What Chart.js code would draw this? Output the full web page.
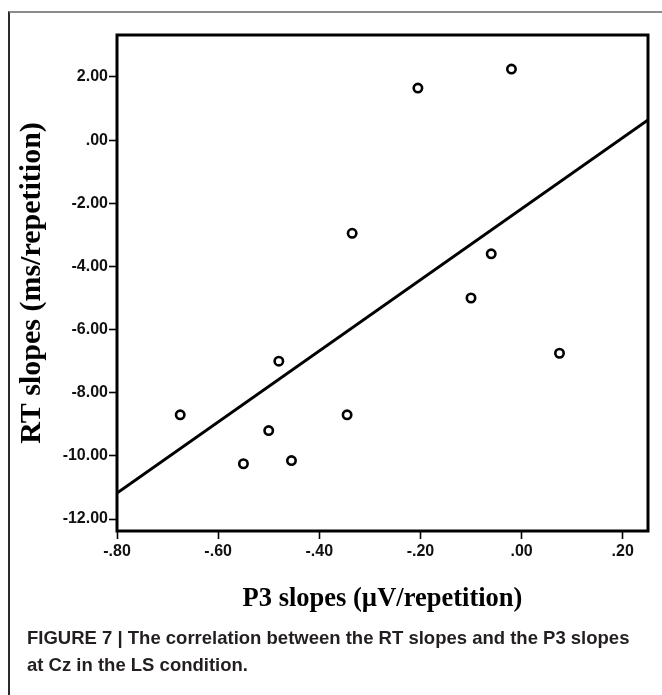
<!DOCTYPE html>
<html>
<head>
<meta charset="utf-8">
<title>RT slopes vs P3 slopes</title>
<script src="https://cdn.jsdelivr.net/npm/chart.js@4.4.1/dist/chart.umd.min.js"></script>
<style>
    html, body { margin: 0; padding: 0; background: #fff; }
    body { width: 662px; height: 695px; position: relative; overflow: hidden; }
    #frame {
        position: absolute; left: 8px; top: 11px; right: -4px; bottom: -4px;
        border-top: 2px solid #8c8c8c; border-left: 2px solid #2b2b2b;
    }
    #plot { position: absolute; left: 0; top: 0; }
    #caption {
        position: absolute; left: 27px; top: 624px;
        font-family: 'Liberation Sans', Arial, sans-serif; font-weight: bold;
        font-size: 18.5px; line-height: 27px; color: #231f20;
    }
</style>
</head>
<body>
<div id="frame"></div>
<canvas id="plot" width="662" height="695"></canvas>
<div id="caption">FIGURE 7 | The correlation between the RT slopes and the P3 slopes<br>at Cz in the LS condition.</div>

<script>
// Data
const p3Slopes = [-0.675, -0.55, -0.50, -0.48, -0.455, -0.345, -0.335, -0.205, -0.10, -0.06, -0.02, 0.075];
const rtSlopes = [-8.70, -10.25, -9.20, -7.00, -10.15, -8.70, -2.95, 1.65, -5.00, -3.60, 2.25, -6.75];

// Regression line end points (at the plot edges)
const fitX = [-0.80, 0.25];
const fitY = [-11.18, 0.64];

// Axis ticks
const xTicks = [-0.8, -0.6, -0.4, -0.2, 0, 0.2];
const xTickLabels = ['-.80', '-.60', '-.40', '-.20', '.00', '.20'];
const yTicks = [-12, -10, -8, -6, -4, -2, 0, 2];
const yTickLabels = ['-12.00', '-10.00', '-8.00', '-6.00', '-4.00', '-2.00', '.00', '2.00'];

const tickFont = { family: "'Liberation Sans', Arial, sans-serif", size: 16, weight: 'bold' };
const xTitleFont = { family: "'Liberation Serif', 'Times New Roman', serif", size: 26.5, weight: 'bold', lineHeight: 1 };
const yTitleFont = { family: "'Liberation Serif', 'Times New Roman', serif", size: 30, weight: 'bold', lineHeight: 1 };

// draws the full box around the plot area
const boxPlugin = {
    id: 'box',
    afterDraw(chart) {
        const { ctx, chartArea: a } = chart;
        ctx.save();
        ctx.strokeStyle = '#000';
        ctx.lineWidth = 3;
        ctx.strokeRect(a.left, a.top, a.right - a.left, a.bottom - a.top);
        ctx.restore();
    }
};

new Chart(document.getElementById('plot'), {
    type: 'scatter',
    data: {
        datasets: [
            {
                label: 'Subjects',
                data: p3Slopes.map((x, i) => ({ x: x, y: rtSlopes[i] })),
                pointStyle: 'circle',
                pointRadius: 4.2,
                pointBorderWidth: 2.6,
                pointBorderColor: '#000',
                pointBackgroundColor: '#fff',
                showLine: false,
                order: 1
            },
            {
                label: 'Fit',
                data: fitX.map((x, i) => ({ x: x, y: fitY[i] })),
                showLine: true,
                borderColor: '#000',
                borderWidth: 3,
                pointRadius: 0,
                order: 2
            }
        ]
    },
    options: {
        responsive: false,
        animation: false,
        devicePixelRatio: 1,
        layout: { padding: { left: 10, top: 35, right: 14, bottom: 83 } },
        plugins: { legend: { display: false }, tooltip: { enabled: false } },
        scales: {
            x: {
                type: 'linear',
                min: -0.8,
                max: 0.25,
                afterFit: s => { s.height = 81; },
                afterBuildTicks: s => { s.ticks = xTicks.map(v => ({ value: v })); },
                border: { display: false },
                grid: { drawOnChartArea: false, drawTicks: true, tickLength: 8, tickWidth: 1.6, tickColor: '#000' },
                ticks: {
                    color: '#111', font: tickFont, padding: 3, maxRotation: 0,
                    callback: v => xTickLabels[xTicks.indexOf(Math.round(v * 100) / 100)]
                },
                title: { display: true, text: 'P3 slopes (\u00b5V/repetition)', color: '#000', font: xTitleFont, padding: { top: 0, bottom: 0 } }
            },
            y: {
                type: 'linear',
                min: -12.38,
                max: 3.33,
                afterFit: s => { s.width = 107; },
                afterBuildTicks: s => { s.ticks = yTicks.map(v => ({ value: v })); },
                border: { display: false },
                grid: { drawOnChartArea: false, drawTicks: true, tickLength: 8, tickWidth: 1.6, tickColor: '#000' },
                ticks: {
                    color: '#111', font: tickFont, padding: 1,
                    callback: v => yTickLabels[yTicks.indexOf(v)]
                },
                title: { display: true, text: 'RT slopes (ms/repetition)', color: '#000', font: yTitleFont, padding: { top: 7, bottom: 0 } }
            }
        }
    },
    plugins: [boxPlugin]
});
</script>
</body>
</html>
